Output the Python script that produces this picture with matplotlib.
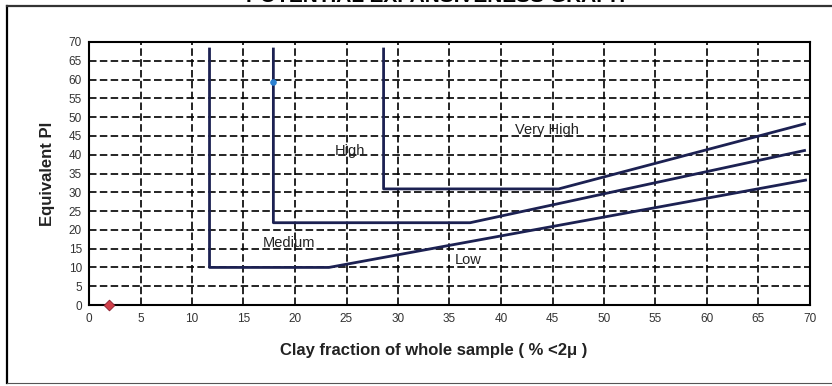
"""
Potential expansiveness graph: equivalent PI vs clay fraction.
"""
import matplotlib
matplotlib.use("Agg")
import matplotlib.pyplot as plt
from matplotlib.lines import Line2D

plt.rcParams["font.family"] = ["Liberation Sans", "DejaVu Sans"]

# boundary lines between zones
low_med_x = [11.7, 11.7, 23.3, 69.7]
low_med_y = [68.5, 10.0, 10.0, 33.3]
med_high_x = [17.9, 17.9, 37.0, 69.6]
med_high_y = [68.5, 21.9, 21.9, 41.2]
high_vhigh_x = [28.6, 28.6, 45.6, 69.6]
high_vhigh_y = [68.5, 30.9, 30.9, 48.3]

# zone labels
zone_names = ["Very High", "High", "Medium", "Low"]
zone_x = [44.5, 25.3, 19.4, 36.8]
zone_y = [46.6, 41.0, 16.5, 12.0]

# sample points
red_x, red_y = [1.9], [0.0]
blue_x, blue_y = [17.9], [59.3]

ticks = list(range(0, 75, 5))

fig = plt.figure(figsize=(8.32, 3.86), dpi=100)
ax = fig.add_axes([89 / 832, 1 - 305 / 386, (810 - 89) / 832, (305 - 42) / 386])

line_col = "#1c2152"
for xs, ys in [(low_med_x, low_med_y), (med_high_x, med_high_y),
               (high_vhigh_x, high_vhigh_y)]:
    ax.plot(xs, ys, color=line_col, lw=2.0, solid_capstyle="butt", zorder=3)

ax.scatter(red_x, red_y, marker="D", s=30, color="#d0404a",
           edgecolors="#8a2030", linewidths=0.6, zorder=5, clip_on=False)
ax.scatter(blue_x, blue_y, marker="o", s=14, color="#2a7fd0", zorder=5)

for name, x, y in zip(zone_names, zone_x, zone_y):
    ax.text(x, y, name, fontsize=10.5, ha="center", va="center", color="#222222",
            zorder=4)

ax.set_xlim(0, 70)
ax.set_ylim(0, 70)
ax.set_xticks(ticks)
ax.set_yticks(ticks)
ax.tick_params(labelsize=8.5, length=0, colors="#333333")
ax.tick_params(axis="x", pad=6)
ax.tick_params(axis="y", pad=5)
ax.grid(True, color="black", linestyle=(0, (4.5, 2)), linewidth=1.2)
for s in ax.spines.values():
    s.set_linewidth(1.5)
    s.set_color("black")

ax.set_xlabel("Clay fraction of whole sample ( % <2\u03bc )", fontsize=12,
              fontweight="bold", color="#222222")
ax.xaxis.set_label_coords((434 - 89) / 721, -38 / 263)
ax.set_ylabel("Equivalent PI", fontsize=12, fontweight="bold", labelpad=10,
              color="#222222")

# outer frame of the scanned sheet
fig.add_artist(Line2D([7 / 832, 7 / 832], [1 - 383 / 386, 1 - 6 / 386],
                      color="black", lw=1.6))
fig.add_artist(Line2D([7 / 832, 1], [1 - 6 / 386, 1 - 6 / 386],
                      color="#333333", lw=1.6))
fig.add_artist(Line2D([7 / 832, 1], [1 - 383 / 386, 1 - 383 / 386],
                      color="#555555", lw=0.8))
fig.text(436 / 832, 1 + 3 / 386, "POTENTIAL EXPANSIVENESS GRAPH", fontsize=15,
         fontweight="bold", ha="center", va="center")

fig.savefig("out.png", dpi=100)
